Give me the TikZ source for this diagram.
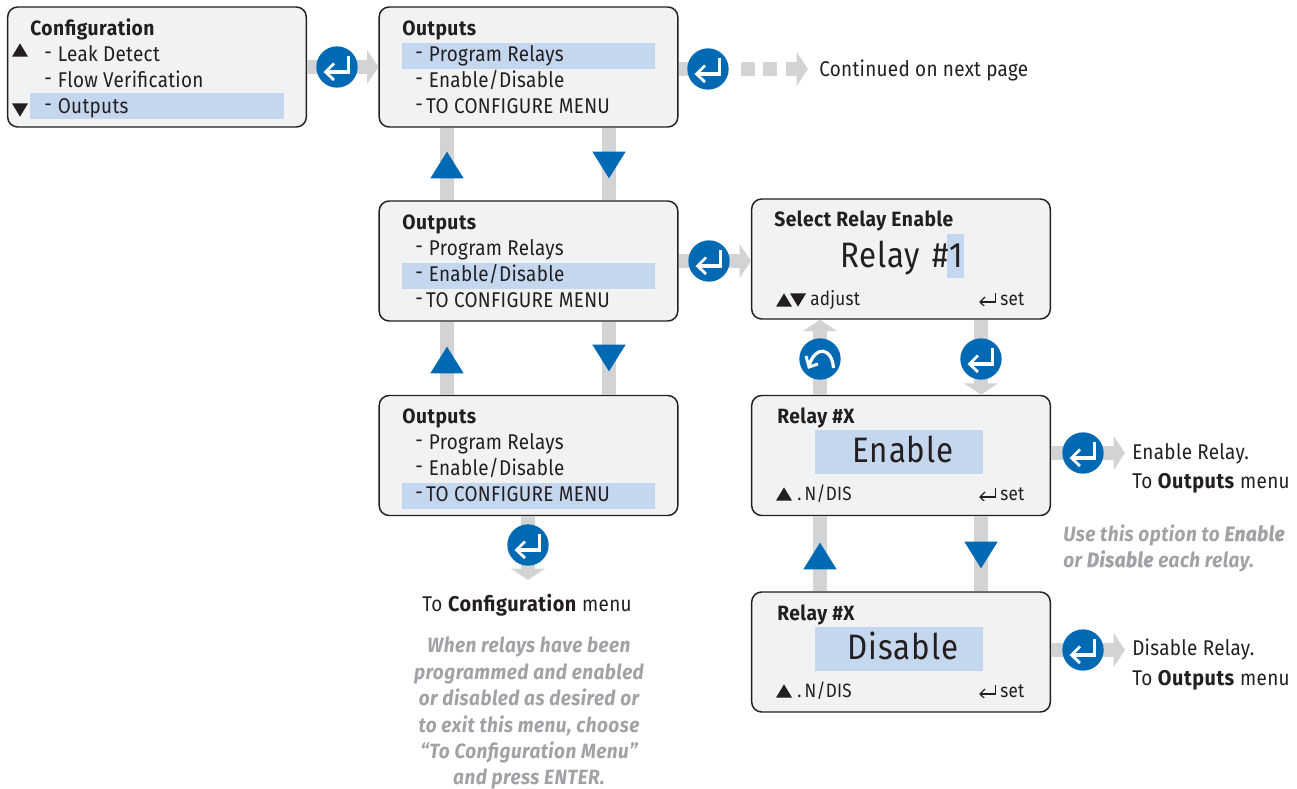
\documentclass[tikz,border=0pt]{standalone}
\usepackage{fontspec}
\usetikzlibrary{arrows.meta}
\setmainfont[FakeStretch=0.885,LetterSpace=1.5,BoldFeatures={FakeStretch=0.93,LetterSpace=2.5},BoldItalicFeatures={FakeStretch=0.92,LetterSpace=2.2}]{Fira Sans}
\definecolor{bluec}{HTML}{0069B4}
\definecolor{barc}{HTML}{D1D3D4}
\definecolor{boxc}{HTML}{F1F2F4}
\definecolor{hlc}{HTML}{C5D7EF}
\definecolor{inkc}{HTML}{231F20}
\definecolor{notec}{HTML}{A0A2A5}
\newcommand{\retglyph}{\begin{scope}[shift=(path picture bounding box.center),x=.75pt,y=-.75pt]
\draw[white,line width=2.4pt,line join=miter] (11.5,-11)--(11.5,5)--(-11,5);
\draw[white,line width=2.1pt] (-3,-3.5)--(-11.5,5)--(-3,13);
\end{scope}}
\newcommand{\undoglyph}{\begin{scope}[shift=(path picture bounding box.center),x=.75pt,y=-.75pt]
\draw[white,line width=2.4pt] (13.5,9) .. controls (12,-12) and (-5,-14) .. (-11,7);
\draw[white,line width=2.2pt] (-14,-3)--(-11,8)--(-2,5);
\end{scope}}
\tikzset{
 x=.75pt,y=-.75pt,
 panel/.style={draw=inkc,line width=1.1pt,fill=boxc,rounded corners=7.5pt,inner sep=0pt,minimum width=224pt,minimum height=90pt},
 title/.style={anchor=base west,inner sep=0pt,inkc,yshift=.75pt,font=\fontsize{15.5}{18}\selectfont\bfseries},
 item/.style={anchor=base west,inner sep=0pt,inkc,yshift=.75pt,font=\fontsize{16}{18}\selectfont},
 small/.style={anchor=base west,inner sep=0pt,inkc,font=\fontsize{14.5}{18}\selectfont},
 big/.style={anchor=base,inner sep=0pt,inkc,font=\fontsize{26.5}{30}\selectfont\addfontfeature{LetterSpace=2.5}},
 plain/.style={anchor=base west,inner sep=0pt,inkc,font=\fontsize{16}{18}\selectfont},
 note/.style={anchor=base,inner sep=0pt,notec,font=\fontsize{15.5}{18}\selectfont\bfseries\itshape},
 bar/.style={barc,line width=10pt},
 bararrow/.style={bar,-{Triangle[length=8.5pt,width=25pt]}},
 enter/.style={circle,fill=bluec,inner sep=0pt,minimum size=31pt,path picture={\retglyph}},
 undo/.style={circle,fill=bluec,inner sep=0pt,minimum size=31pt,path picture={\undoglyph}},
 uptri/.style={inner sep=0pt,minimum width=25pt,minimum height=20pt,path picture={\fill[bluec] (path picture bounding box.south west)--(path picture bounding box.south east)--(path picture bounding box.north)--cycle;}},
 dntri/.style={inner sep=0pt,minimum width=25pt,minimum height=20pt,path picture={\fill[bluec] (path picture bounding box.north west)--(path picture bounding box.north east)--(path picture bounding box.south)--cycle;}},
 kup/.style={inner sep=0pt,minimum width=12pt,minimum height=10pt,path picture={\fill[inkc] (path picture bounding box.south west)--(path picture bounding box.south east)--(path picture bounding box.north)--cycle;}},
 kdn/.style={inner sep=0pt,minimum width=12pt,minimum height=10pt,path picture={\fill[inkc] (path picture bounding box.north west)--(path picture bounding box.north east)--(path picture bounding box.south)--cycle;}},
 kret/.style={inner sep=0pt,minimum width=13pt,minimum height=10pt,path picture={\begin{scope}[shift=(path picture bounding box.center),x=.75pt,y=-.75pt]\draw[inkc,line width=.9pt] (7.5,-6.5)--(7.5,3)--(-8,3);\draw[inkc,line width=.9pt] (-3,-2)--(-8,3)--(-3,8);\end{scope}}},
}
\newcommand{\dashitem}[2]{\raisebox{1.5pt}{-}\hspace{#1}#2}
\newcommand{\heavyem}[1]{{\addfontfeature{FakeBold=1.2}#1}}
\begin{document}
\begin{tikzpicture}
\useasboundingbox (0,0) rectangle (1297,789);
% panels
\node[panel] (cfg) at (157,67) {};
\node[panel] (o1) at (528.5,67) {};
\node[panel] (o2) at (528.5,261) {};
\node[panel] (o3) at (528.5,455.5) {};
\node[panel] (sel) at (901,259) {};
\node[panel] (rx) at (901,455.5) {};
\node[panel] (rd) at (901,652) {};
% free ends
\coordinate (endA) at (528,580);
\coordinate (endB) at (1125,453);
\coordinate (endC) at (1125,650);
\coordinate (contA) at (712,69);
\coordinate (d1a) at (741,69);\coordinate (d1b) at (755,69);
\coordinate (d2a) at (763,69);\coordinate (d2b) at (777,69);
\coordinate (d3a) at (786,69);\coordinate (d3b) at (808,69);
\coordinate (a1) at (447,0);\coordinate (a2) at (609,0);
\coordinate (b1) at (820,0);\coordinate (b2) at (981,0);
% connectors
\draw[bararrow] (cfg.east) -- (o1.west);
\draw[bar] (o1.east |- contA) -- (contA);
\draw[bar] (d1a) -- (d1b);
\draw[bar] (d2a) -- (d2b);
\draw[bararrow] (d3a) -- (d3b);
\draw[bararrow] (o2.east |- 0,261) -- (sel.west |- 0,261);
\draw[bar] (a1 |- o1.south) -- (a1 |- o2.north);
\draw[bar] (a2 |- o1.south) -- (a2 |- o2.north);
\draw[bar] (a1 |- o2.south) -- (a1 |- o3.north);
\draw[bar] (a2 |- o2.south) -- (a2 |- o3.north);
\draw[bar] (b1 |- rx.south) -- (b1 |- rd.north);
\draw[bar] (b2 |- rx.south) -- (b2 |- rd.north);
\draw[bararrow] (b2 |- sel.south) -- (b2 |- rx.north);
\draw[bararrow] (b1 |- rx.north) -- (b1 |- sel.south);
\draw[bararrow] (o3.south -| endA) -- (endA);
\draw[bararrow] (rx.east |- endB) -- (endB);
\draw[bararrow] (rd.east |- endC) -- (endC);
% icons
\node[enter] (e1) at (337,67) {};
\node[enter] (e2) at (708,69) {};
\node[enter] (e3) at (709,261) {};
\node[enter] (e4) at (981,359) {};
\node[undo] (u1) at (820,359) {};
\node[enter] (e5) at (528,545) {};
\node[enter] (e6) at (1083,453) {};
\node[enter] (e7) at (1083,650) {};
% blue triangles
\node[uptri] (t1) at (447,165) {};
\node[dntri] (t2) at (609,165) {};
\node[uptri] (t3) at (447,360) {};
\node[dntri] (t4) at (609,358) {};
\node[uptri] (t5) at (820,556) {};
\node[dntri] (t6) at (981,555) {};
% highlights
\fill[hlc] (30,93) rectangle (284,119);
\fill[hlc] (402,43) rectangle (655,69);
\fill[hlc] (402,263) rectangle (655,289);
\fill[hlc] (402,483) rectangle (655,509);
\fill[hlc] (947,234) rectangle (964,278);
\fill[hlc] (815,430) rectangle (983,474);
\fill[hlc] (815,627) rectangle (983,671);
% Configuration panel
\node[title] (c0) at (30,36) {Configuration};
\node[item] (c1) at (44,62) {\dashitem{4.5pt}{Leak Detect}};
\node[item] (c2) at (44,88) {\dashitem{4.5pt}{Flow Verification}};
\node[item] (c3) at (44,114) {\dashitem{4.5pt}{Outputs}};
\node[kup] (k1) at (20,50) {};
\node[kdn] (k2) at (20,110) {};
% Outputs panels
\node[title] (p0) at (402,36) {Outputs};
\node[item] (p1) at (415,62) {\dashitem{4.5pt}{Program Relays}};
\node[item] (p2) at (415,88) {\dashitem{4.5pt}{Enable/Disable}};
\node[item] (p3) at (415,114) {\dashitem{2.5pt}{TO CONFIGURE MENU}};
\node[title] (q0) at (402,230) {Outputs};
\node[item] (q1) at (415,256) {\dashitem{4.5pt}{Program Relays}};
\node[item] (q2) at (415,282) {\dashitem{4.5pt}{Enable/Disable}};
\node[item] (q3) at (415,308) {\dashitem{2.5pt}{TO CONFIGURE MENU}};
\node[title] (r0) at (402,424) {Outputs};
\node[item] (r1) at (415,450) {\dashitem{4.5pt}{Program Relays}};
\node[item] (r2) at (415,476) {\dashitem{4.5pt}{Enable/Disable}};
\node[item] (r3) at (415,502) {\dashitem{2.5pt}{TO CONFIGURE MENU}};
% Select panel
\node[title] (s0) at (774,227) {Select Relay Enable};
\node[big,anchor=base east] (s1) at (963,267) {Relay\hspace{2pt} \#1};
\node[kup] (s2) at (784,300) {};
\node[kdn] (s3) at (798,300) {};
\node[small] (s4) at (810,305) {adjust};
\node[kret] (s5) at (988,299) {};
\node[small] (s6) at (1000,305) {set};
% Relay X
\node[title] (x0) at (777,424) {Relay \#X};
\node[big] (x1) at (903,462) {Enable};
\node[kup] (x2) at (784,494) {};
\node[small] (x3) at (797,500) {.\,N/DIS};
\node[kret] (x4) at (988,494) {};
\node[small] (x5) at (1000,500) {set};
\node[title] (y0) at (777,621) {Relay \#X};
\node[big] (y1) at (903,659) {Disable};
\node[kup] (y2) at (784,691) {};
\node[small] (y3) at (797,697) {.\,N/DIS};
\node[kret] (y4) at (988,691) {};
\node[small] (y5) at (1000,697) {set};
% outside text
\node[plain] (n1) at (819,76) {Continued on next page};
\node[plain] (n2) at (1132,459) {Enable Relay.};
\node[plain] (n3) at (1132,488) {To \textbf{Outputs} menu};
\node[plain] (n4) at (1132,655) {Disable Relay.};
\node[plain] (n5) at (1132,685) {To \textbf{Outputs} menu};
\node[note,anchor=base west] (n6) at (1063,541) {Use this option to \heavyem{Enable}};
\node[note,anchor=base west] (n7) at (1063,567) {or \heavyem{Disable} each relay.};
\node[plain,anchor=base] (n8) at (527,611) {To \textbf{Configuration} menu};
\node[note] (m1) at (529,652) {When relays have been};
\node[note] (m2) at (529,679) {programmed and enabled};
\node[note] (m3) at (529,705) {or disabled as desired or};
\node[note] (m4) at (529,732) {to exit this menu, choose};
\node[note] (m5) at (529,758) {“To Configuration Menu”};
\node[note] (m6) at (529,784) {and press ENTER.};
\end{tikzpicture}
\end{document}
